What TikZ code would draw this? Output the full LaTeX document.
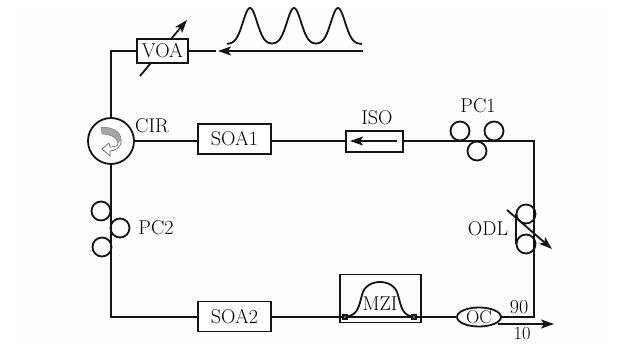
\documentclass[tikz,border=0pt]{standalone}
\usetikzlibrary{arrows.meta,shapes.geometric}
\tikzset{
  x=1pt,y=-1pt,
  ln/.style={line width=1.8pt,draw=black!92},
  fibre/.style={ln},
  tip/.style={-{Stealth[length=13pt,width=9pt,inset=3pt]}},
  lbl/.style={font=\fontsize{20}{22}\selectfont,inner sep=0pt,text=black},
  devbox/.style={ln,rectangle,inner sep=0pt,fill=white,font=\fontsize{20}{22}\selectfont,text=black},
  loopc/.style={ln,circle,inner sep=0pt,minimum size=19pt},
  pt/.style={inner sep=0pt,minimum size=0pt}
}
\begin{document}
\begin{tikzpicture}
\useasboundingbox (0,0) rectangle (628,344);
\fill[white] (0,0) rectangle (628,344);
\fill[black!0.8] (18,6) rectangle (610,344);

% anchor coordinates
\coordinate (tr) at (534,141);
\coordinate (br) at (534,317);
\coordinate (bl) at (111,317);
\coordinate (tl) at (111,51);
\coordinate (voaend) at (216,51);
\coordinate (pulseR) at (363,51);
\coordinate (pulseL) at (218,51);
\coordinate (isoR) at (397,141);
\coordinate (isoL) at (350,141);
\coordinate (out1) at (498,324);
\coordinate (out2) at (554,324);
\coordinate (va) at (140,76);
\coordinate (vb) at (187,20);
\coordinate (oa) at (507,210);
\coordinate (ob) at (552,249);

% tunable attenuator arrow passes behind the box
\draw[ln,tip] (va) -- (vb);

% devices
\node[ln,circle,inner sep=0pt,minimum size=46pt] (cir) at (111,141) {};
\node[devbox,minimum width=51pt,minimum height=24pt] (voa) at (162.5,51) {VOA};
\node[devbox,minimum width=73pt,minimum height=30pt] (soa1) at (234.5,139) {SOA1};
\node[devbox,minimum width=73pt,minimum height=30pt] (soa2) at (234.5,316.5) {SOA2};
\node[devbox,minimum width=57pt,minimum height=21pt] (iso) at (374.5,141.5) {};
\node[ln,rectangle,inner sep=0pt,minimum width=81pt,minimum height=48pt] (mzi) at (380.5,298.5) {};
\node[ln,ellipse,inner sep=0pt,minimum width=44pt,minimum height=19pt,fill=white] (oc) at (479,317) {};

% fibre
\draw[fibre] (cir.north) -- (tl) -- (voa.west);
\draw[fibre] (voa.east) -- (voaend);
\draw[fibre] (cir.east) -- (soa1.west |- cir.east);
\draw[fibre] (soa1.east |- cir.east) -- (iso.west |- cir.east);
\draw[fibre] (iso.east |- tr) -- (tr) -- (br) -- (oc.east);
\draw[fibre] (oc.west) -- (mzi.east |- oc.west) -- (mzi.west |- oc.west) -- (soa2.east |- oc.west);
\draw[fibre] (soa2.west |- bl) -- (bl) -- (cir.south);

% signal arrows
\draw[ln,tip] (pulseR) -- (pulseL);
\draw[ln,tip] (isoR) -- (isoL);
\draw[ln,tip] (out1) -- (out2);
\draw[ln,tip] (oa) -- (ob);

% pulses
\draw[ln,line join=round] plot[domain=227:362,samples=150,smooth]
  (\x,{44-36*(exp(-((\x-250)/10)^2)+exp(-((\x-294)/10)^2)+exp(-((\x-338)/10)^2))});

% polarization controllers
\node[loopc] (p1a) at (460,131) {};
\node[loopc] (p1b) at (494,131) {};
\node[loopc] (p1c) at (477,151) {};
\node[loopc] (p2a) at (101,211) {};
\node[loopc] (p2b) at (120,228) {};
\node[loopc] (p2c) at (102,247) {};

% ODL
\node[loopc] (oda) at (526,214) {};
\node[loopc] (odb) at (526,244) {};
\draw[ln] (oda.west) -- (odb.west);

% MZI
\node[ln,rectangle,inner sep=0pt,minimum size=4.5pt,fill=black!60] (mza) at (345,317) {};
\node[ln,rectangle,inner sep=0pt,minimum size=4.5pt,fill=black!60] (mzb) at (414,317) {};
\draw[ln] (mza) .. controls (358,314) and (359,306) .. (362,295)
  .. controls (364,286) and (372,282) .. (380,282)
  .. controls (388,282) and (396,286) .. (398,295)
  .. controls (401,306) and (402,314) .. (mzb);

% circulator symbol
\fill[black!35,draw=black!55,line width=.4pt] (101,127) .. controls (112,127) and (121,131) .. (121,140)
  .. controls (120,141) and (119,143) .. (118,144) .. controls (118,138) and (110,134) .. (102,134) -- cycle;
\draw[black!60,line width=.7pt,fill=white] (121,140) .. controls (122,147) and (115,151) .. (110,151)
  -- (110,156) -- (102,149) -- (109,143) -- (110,147) .. controls (114,147) and (118,146) .. (118,144);

% labels
\node[lbl] (lcir) at (152,126) {CIR};
\node[lbl] (liso) at (377,118) {ISO};
\node[lbl] (lpc1) at (478,106) {PC1};
\node[lbl] (lpc2) at (156,228) {PC2};
\node[lbl] (lodl) at (488,229) {ODL};
\node[lbl] (lmzi) at (380,304) {MZI};
\node[lbl,font=\fontsize{18.5}{20}\selectfont] (loc) at (479,317) {OC};
\node[lbl] (l90) at (519,307) {90};
\node[lbl,font=\fontsize{18.5}{20}\selectfont] (l10) at (522,334) {10};
\end{tikzpicture}
\end{document}
